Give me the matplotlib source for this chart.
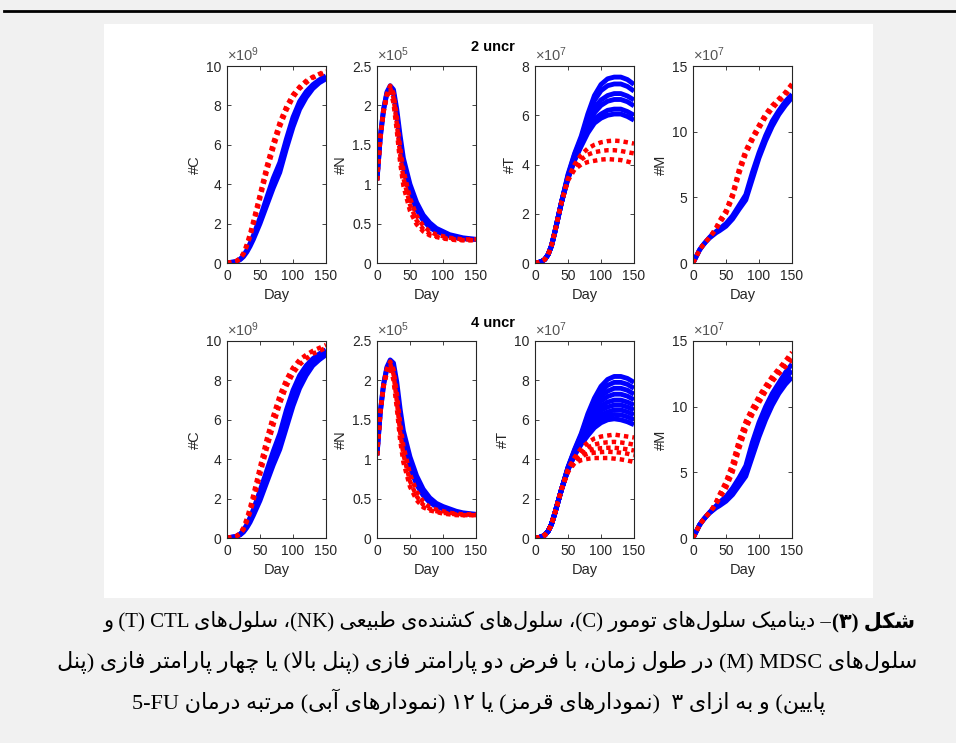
import re
import matplotlib
matplotlib.use('Agg')
import matplotlib.pyplot as plt
from matplotlib.patches import Rectangle
from matplotlib.lines import Line2D
from matplotlib.ticker import FuncFormatter

plt.rcParams['font.family'] = ['Liberation Sans', 'DejaVu Sans']
plt.rcParams['mathtext.fontset'] = 'custom'
plt.rcParams['mathtext.rm'] = 'Liberation Sans'

# ---- data (in the units shown on each axis) ----
days = [0, 5, 10, 15, 20, 25, 30, 35, 40, 50, 60, 70, 80, 90, 100, 110, 120, 130, 140, 150]

# tumour cells C (x1e9)
c2_red = [
    [0.02, 0.03, 0.06, 0.12, 0.25, 0.5, 0.95, 1.5, 2.15, 3.5, 4.9, 6.1, 7.15, 7.95, 8.55, 8.95, 9.25, 9.45, 9.6, 9.75],
    [0.02, 0.03, 0.05, 0.1, 0.22, 0.45, 0.85, 1.35, 1.95, 3.25, 4.6, 5.8, 6.9, 7.75, 8.4, 8.85, 9.15, 9.4, 9.55, 9.7],
]
c2_blue = [
    [0.02, 0.03, 0.05, 0.1, 0.2, 0.38, 0.65, 1.0, 1.4, 2.3, 3.3, 4.3, 5.1, 6.3, 7.4, 8.2, 8.7, 9.05, 9.3, 9.5],
    [0.02, 0.03, 0.05, 0.09, 0.17, 0.32, 0.55, 0.85, 1.2, 2.0, 2.9, 3.8, 4.6, 5.8, 6.9, 7.8, 8.4, 8.85, 9.15, 9.35],
]
c4_red = [
    [0.02, 0.03, 0.06, 0.12, 0.26, 0.52, 0.98, 1.55, 2.2, 3.6, 5.0, 6.2, 7.25, 8.05, 8.65, 9.05, 9.3, 9.5, 9.65, 9.8],
    [0.02, 0.03, 0.05, 0.1, 0.21, 0.43, 0.82, 1.3, 1.9, 3.2, 4.5, 5.7, 6.8, 7.7, 8.35, 8.8, 9.1, 9.35, 9.5, 9.65],
]
c4_blue = [
    [0.02, 0.03, 0.05, 0.1, 0.2, 0.4, 0.68, 1.05, 1.45, 2.4, 3.4, 4.4, 5.3, 6.5, 7.5, 8.25, 8.75, 9.1, 9.35, 9.55],
    [0.02, 0.03, 0.05, 0.09, 0.18, 0.34, 0.58, 0.9, 1.28, 2.12, 3.05, 3.98, 4.78, 5.95, 7.05, 7.9, 8.5, 8.9, 9.18, 9.38],
    [0.02, 0.03, 0.05, 0.09, 0.16, 0.3, 0.52, 0.8, 1.15, 1.9, 2.8, 3.7, 4.5, 5.6, 6.7, 7.6, 8.25, 8.75, 9.05, 9.3],
]

# NK cells N (x1e5)
n2_red = [
    [1.05, 1.6, 1.95, 2.15, 2.25, 2.15, 1.85, 1.47, 1.18, 0.82, 0.6, 0.47, 0.4, 0.36, 0.34, 0.32, 0.31, 0.3, 0.3, 0.3],
    [1.05, 1.58, 1.92, 2.12, 2.22, 2.1, 1.77, 1.38, 1.08, 0.74, 0.54, 0.43, 0.37, 0.34, 0.32, 0.31, 0.3, 0.29, 0.29, 0.29],
    [1.05, 1.58, 1.92, 2.12, 2.2, 2.03, 1.68, 1.28, 0.98, 0.66, 0.49, 0.4, 0.35, 0.33, 0.31, 0.3, 0.29, 0.29, 0.29, 0.29],
]
n2_blue = [
    [1.05, 1.6, 1.95, 2.17, 2.25, 2.2, 1.95, 1.62, 1.33, 1.0, 0.77, 0.61, 0.51, 0.44, 0.4, 0.36, 0.34, 0.32, 0.31, 0.3],
    [1.05, 1.6, 1.95, 2.15, 2.22, 2.15, 1.88, 1.52, 1.22, 0.9, 0.68, 0.54, 0.45, 0.4, 0.37, 0.34, 0.32, 0.31, 0.3, 0.3],
]
n4_red = [
    [1.05, 1.6, 1.95, 2.15, 2.24, 2.14, 1.84, 1.46, 1.17, 0.81, 0.59, 0.46, 0.39, 0.36, 0.34, 0.32, 0.31, 0.3, 0.3, 0.3],
    [1.05, 1.59, 1.93, 2.12, 2.21, 2.08, 1.74, 1.35, 1.06, 0.72, 0.53, 0.42, 0.37, 0.34, 0.32, 0.31, 0.3, 0.29, 0.29, 0.29],
    [1.05, 1.58, 1.92, 2.1, 2.18, 2.0, 1.65, 1.25, 0.96, 0.65, 0.48, 0.39, 0.35, 0.33, 0.31, 0.3, 0.29, 0.29, 0.29, 0.29],
]
n4_blue = [
    [1.05, 1.6, 1.95, 2.17, 2.26, 2.22, 1.98, 1.64, 1.36, 1.03, 0.79, 0.62, 0.51, 0.44, 0.4, 0.37, 0.34, 0.32, 0.31, 0.3],
    [1.05, 1.6, 1.95, 2.15, 2.22, 2.15, 1.88, 1.52, 1.22, 0.9, 0.68, 0.54, 0.45, 0.4, 0.37, 0.34, 0.32, 0.31, 0.3, 0.3],
]

# CTL cells T (x1e7)
t2_red = [
    [0, 0.02, 0.06, 0.15, 0.35, 0.7, 1.25, 1.85, 2.45, 3.45, 4.0, 4.4, 4.65, 4.8, 4.9, 4.95, 4.97, 4.95, 4.9, 4.85],
    [0, 0.02, 0.06, 0.15, 0.35, 0.7, 1.25, 1.85, 2.45, 3.4, 3.9, 4.2, 4.4, 4.5, 4.55, 4.58, 4.58, 4.55, 4.5, 4.45],
    [0, 0.02, 0.06, 0.15, 0.35, 0.7, 1.25, 1.85, 2.45, 3.35, 3.8, 4.0, 4.1, 4.15, 4.2, 4.22, 4.2, 4.18, 4.12, 4.05],
]
t2_blue = [
    [0, 0.02, 0.06, 0.15, 0.35, 0.7, 1.25, 1.85, 2.45, 3.6, 4.45, 5.15, 6.05, 6.8, 7.25, 7.48, 7.55, 7.55, 7.45, 7.25],
    [0, 0.02, 0.06, 0.15, 0.35, 0.7, 1.25, 1.85, 2.45, 3.55, 4.4, 5.05, 5.9, 6.6, 7.0, 7.2, 7.27, 7.27, 7.17, 6.98],
    [0, 0.02, 0.06, 0.15, 0.35, 0.7, 1.25, 1.85, 2.45, 3.5, 4.3, 4.95, 5.7, 6.3, 6.62, 6.8, 6.88, 6.88, 6.78, 6.62],
    [0, 0.02, 0.06, 0.15, 0.35, 0.7, 1.25, 1.85, 2.45, 3.48, 4.27, 4.88, 5.55, 6.1, 6.4, 6.57, 6.64, 6.64, 6.55, 6.38],
    [0, 0.02, 0.06, 0.15, 0.35, 0.7, 1.25, 1.85, 2.45, 3.45, 4.2, 4.8, 5.4, 5.85, 6.05, 6.2, 6.25, 6.25, 6.15, 6.0],
    [0, 0.02, 0.06, 0.15, 0.35, 0.7, 1.25, 1.85, 2.45, 3.42, 4.17, 4.74, 5.28, 5.68, 5.88, 6.0, 6.05, 6.05, 5.95, 5.8],
]
t4_red = [
    [0, 0.02, 0.06, 0.15, 0.35, 0.7, 1.25, 1.85, 2.45, 3.5, 4.1, 4.55, 4.85, 5.05, 5.15, 5.2, 5.25, 5.2, 5.15, 5.1],
    [0, 0.02, 0.06, 0.15, 0.35, 0.7, 1.25, 1.85, 2.45, 3.45, 4.0, 4.35, 4.6, 4.75, 4.82, 4.86, 4.88, 4.85, 4.8, 4.74],
    [0, 0.02, 0.06, 0.15, 0.35, 0.7, 1.25, 1.85, 2.45, 3.42, 3.95, 4.25, 4.42, 4.52, 4.56, 4.58, 4.58, 4.55, 4.5, 4.44],
    [0, 0.02, 0.06, 0.15, 0.35, 0.7, 1.25, 1.85, 2.45, 3.4, 3.9, 4.15, 4.28, 4.33, 4.36, 4.38, 4.36, 4.33, 4.28, 4.2],
    [0, 0.02, 0.06, 0.15, 0.35, 0.7, 1.25, 1.85, 2.45, 3.35, 3.8, 3.95, 4.02, 4.06, 4.06, 4.06, 4.03, 3.99, 3.93, 3.86],
]
t4_blue = [
    [0, 0.02, 0.06, 0.15, 0.35, 0.7, 1.25, 1.85, 2.45, 3.6, 4.5, 5.3, 6.3, 7.1, 7.7, 8.05, 8.2, 8.2, 8.1, 7.9],
    [0, 0.02, 0.06, 0.15, 0.35, 0.7, 1.25, 1.85, 2.45, 3.58, 4.45, 5.22, 6.15, 6.9, 7.45, 7.75, 7.9, 7.9, 7.8, 7.6],
    [0, 0.02, 0.06, 0.15, 0.35, 0.7, 1.25, 1.85, 2.45, 3.55, 4.4, 5.15, 6.0, 6.7, 7.2, 7.45, 7.6, 7.6, 7.5, 7.3],
    [0, 0.02, 0.06, 0.15, 0.35, 0.7, 1.25, 1.85, 2.45, 3.52, 4.38, 5.08, 5.85, 6.5, 6.95, 7.18, 7.3, 7.3, 7.2, 7.02],
    [0, 0.02, 0.06, 0.15, 0.35, 0.7, 1.25, 1.85, 2.45, 3.5, 4.35, 5.0, 5.7, 6.3, 6.7, 6.9, 7.0, 7.0, 6.9, 6.75],
    [0, 0.02, 0.06, 0.15, 0.35, 0.7, 1.25, 1.85, 2.45, 3.5, 4.32, 4.95, 5.58, 6.12, 6.48, 6.65, 6.75, 6.75, 6.65, 6.5],
    [0, 0.02, 0.06, 0.15, 0.35, 0.7, 1.25, 1.85, 2.45, 3.5, 4.3, 4.9, 5.45, 5.95, 6.25, 6.4, 6.5, 6.5, 6.4, 6.25],
    [0, 0.02, 0.06, 0.15, 0.35, 0.7, 1.25, 1.85, 2.45, 3.48, 4.25, 4.82, 5.32, 5.78, 6.05, 6.2, 6.27, 6.25, 6.15, 6.0],
    [0, 0.02, 0.06, 0.15, 0.35, 0.7, 1.25, 1.85, 2.45, 3.45, 4.2, 4.75, 5.2, 5.6, 5.85, 6.0, 6.05, 6.0, 5.9, 5.75],
]

# MDSC cells M (x1e7)
m2_red = [
    [0, 0.5, 1.0, 1.35, 1.65, 1.95, 2.3, 2.7, 3.2, 4.0, 5.3, 7.2, 8.6, 9.6, 10.5, 11.35, 12.0, 12.5, 13.0, 13.65],
    [0, 0.5, 1.0, 1.35, 1.65, 1.95, 2.25, 2.6, 3.0, 3.75, 5.0, 6.8, 8.3, 9.35, 10.25, 11.1, 11.75, 12.3, 12.8, 13.4],
]
m2_blue = [
    [0, 0.5, 1.0, 1.35, 1.65, 1.95, 2.2, 2.4, 2.6, 3.0, 3.6, 4.4, 5.2, 6.9, 8.4, 9.7, 10.8, 11.6, 12.3, 12.85],
    [0, 0.5, 1.0, 1.35, 1.65, 1.9, 2.1, 2.3, 2.45, 2.8, 3.35, 4.1, 4.8, 6.4, 8.0, 9.3, 10.4, 11.3, 12.0, 12.6],
]
m4_red = [
    [0, 0.5, 1.0, 1.35, 1.65, 1.95, 2.3, 2.75, 3.3, 4.3, 5.7, 7.5, 8.9, 9.9, 10.8, 11.6, 12.3, 12.9, 13.5, 14.15],
    [0, 0.5, 1.0, 1.35, 1.65, 1.95, 2.28, 2.68, 3.15, 4.05, 5.35, 7.15, 8.6, 9.65, 10.55, 11.38, 12.1, 12.7, 13.28, 13.88],
    [0, 0.5, 1.0, 1.35, 1.65, 1.95, 2.25, 2.6, 3.0, 3.8, 5.0, 6.8, 8.3, 9.4, 10.3, 11.15, 11.9, 12.5, 13.05, 13.6],
]
m4_blue = [
    [0, 0.5, 1.0, 1.35, 1.65, 1.95, 2.2, 2.45, 2.7, 3.15, 3.8, 4.6, 5.5, 7.3, 8.8, 10.0, 11.0, 11.8, 12.6, 13.25],
    [0, 0.5, 1.0, 1.35, 1.65, 1.92, 2.15, 2.38, 2.58, 2.98, 3.55, 4.3, 5.1, 6.75, 8.25, 9.5, 10.55, 11.4, 12.15, 12.75],
    [0, 0.5, 1.0, 1.35, 1.65, 1.9, 2.1, 2.3, 2.45, 2.8, 3.3, 4.0, 4.7, 6.2, 7.7, 9.0, 10.1, 11.0, 11.7, 12.25],
]

row_titles = ['2 uncr', '4 uncr']
ylabels = ['#C', '#N', '#T', '#M']
exponents = [9, 5, 7, 7]
ymax = [[10, 2.5, 8, 15], [10, 2.5, 10, 15]]
yticks = [
    [[0, 2, 4, 6, 8, 10], [0, 0.5, 1, 1.5, 2, 2.5], [0, 2, 4, 6, 8], [0, 5, 10, 15]],
    [[0, 2, 4, 6, 8, 10], [0, 0.5, 1, 1.5, 2, 2.5], [0, 2, 4, 6, 8, 10], [0, 5, 10, 15]],
]
xticks = [0, 50, 100, 150]
red_sets = [[c2_red, n2_red, t2_red, m2_red], [c4_red, n4_red, t4_red, m4_red]]
blue_sets = [[c2_blue, n2_blue, t2_blue, m2_blue], [c4_blue, n4_blue, t4_blue, m4_blue]]

cap_bold = 'شکل (۳)'
cap_lines = [
    '– دینامیک سلول\u200cهای تومور (C)، سلول\u200cهای کشنده\u200cی طبیعی (NK)، سلول\u200cهای CTL (T) و',
    'سلول\u200cهای MDSC (M) در طول زمان، با فرض دو پارامتر فازی (پنل بالا) یا چهار پارامتر فازی (پنل',
    'پایین) و به ازای ۳  (نمودارهای قرمز) یا ۱۲ (نمودارهای آبی) مرتبه درمان 5-FU',
]

# ---- minimal arabic shaping + bidi so the persian caption renders ----
FORMS = {
    'ا': (0xFE8D, 0xFE8E, None, None), 'آ': (0xFE81, 0xFE82, None, None),
    'ب': (0xFE8F, 0xFE90, 0xFE91, 0xFE92), 'پ': (0xFB56, 0xFB57, 0xFB58, 0xFB59),
    'ت': (0xFE95, 0xFE96, 0xFE97, 0xFE98), 'ث': (0xFE99, 0xFE9A, 0xFE9B, 0xFE9C),
    'ج': (0xFE9D, 0xFE9E, 0xFE9F, 0xFEA0), 'چ': (0xFB7A, 0xFB7B, 0xFB7C, 0xFB7D),
    'ح': (0xFEA1, 0xFEA2, 0xFEA3, 0xFEA4), 'خ': (0xFEA5, 0xFEA6, 0xFEA7, 0xFEA8),
    'د': (0xFEA9, 0xFEAA, None, None), 'ذ': (0xFEAB, 0xFEAC, None, None),
    'ر': (0xFEAD, 0xFEAE, None, None), 'ز': (0xFEAF, 0xFEB0, None, None),
    'ژ': (0xFB8A, 0xFB8B, None, None),
    'س': (0xFEB1, 0xFEB2, 0xFEB3, 0xFEB4), 'ش': (0xFEB5, 0xFEB6, 0xFEB7, 0xFEB8),
    'ص': (0xFEB9, 0xFEBA, 0xFEBB, 0xFEBC), 'ض': (0xFEBD, 0xFEBE, 0xFEBF, 0xFEC0),
    'ط': (0xFEC1, 0xFEC2, 0xFEC3, 0xFEC4), 'ظ': (0xFEC5, 0xFEC6, 0xFEC7, 0xFEC8),
    'ع': (0xFEC9, 0xFECA, 0xFECB, 0xFECC), 'غ': (0xFECD, 0xFECE, 0xFECF, 0xFED0),
    'ف': (0xFED1, 0xFED2, 0xFED3, 0xFED4), 'ق': (0xFED5, 0xFED6, 0xFED7, 0xFED8),
    'ک': (0xFB8E, 0xFB8F, 0xFB90, 0xFB91), 'گ': (0xFB92, 0xFB93, 0xFB94, 0xFB95),
    'ل': (0xFEDD, 0xFEDE, 0xFEDF, 0xFEE0), 'م': (0xFEE1, 0xFEE2, 0xFEE3, 0xFEE4),
    'ن': (0xFEE5, 0xFEE6, 0xFEE7, 0xFEE8), 'ه': (0xFEE9, 0xFEEA, 0xFEEB, 0xFEEC),
    'و': (0xFEED, 0xFEEE, None, None), 'ی': (0xFBFC, 0xFBFD, 0xFBFE, 0xFBFF),
}
LAM_ALEF = {'ا': (0xFEFB, 0xFEFC), 'آ': (0xFEF5, 0xFEF6)}


def dual(c):
    return c in FORMS and FORMS[c][2] is not None


def shape(s):
    out = []
    i = 0
    while i < len(s):
        c = s[i]
        if c not in FORMS:
            out.append(c)
            i += 1
            continue
        jp = i > 0 and dual(s[i - 1])
        nxt = s[i + 1] if i + 1 < len(s) else ''
        if c == 'ل' and nxt in LAM_ALEF:
            out.append(chr(LAM_ALEF[nxt][1 if jp else 0]))
            i += 2
            continue
        jn = dual(c) and nxt in FORMS
        iso, fin, ini, med = FORMS[c]
        if jp and jn:
            cp = med
        elif jp:
            cp = fin
        elif jn:
            cp = ini
        else:
            cp = iso
        out.append(chr(cp))
        i += 1
    return ''.join(out).replace('\u200c', '')


LTR_RUN = r'[A-Za-z0-9\u06F0-\u06F9]+(?:-[A-Za-z0-9\u06F0-\u06F9]+)*'


def visual(s):
    s = shape(s)
    runs = re.findall(LTR_RUN + r'|[^A-Za-z0-9\u06F0-\u06F9]+', s)
    out = []
    for r in reversed(runs):
        if re.match(LTR_RUN, r):
            out.append(r)
        else:
            out.append(''.join({'(': ')', ')': '('}.get(c, c) for c in reversed(r)))
    return ''.join(out)


# ---- figure ----
W, H = 956, 743
fig = plt.figure(figsize=(W / 100, H / 100), dpi=100)
fig.patch.set_facecolor('#f1f1f1')
fig.add_artist(Rectangle((104 / W, 1 - 598 / H), 769 / W, 574 / H, transform=fig.transFigure,
                         facecolor='white', edgecolor='none', zorder=-5))
fig.add_artist(Line2D([4 / W, 1], [1 - 11 / H, 1 - 11 / H], transform=fig.transFigure,
                      color='black', lw=2))

grey = '#262626'
lefts = [227, 377, 535, 693]
bottoms = [263, 538]

for row in range(2):
    for col in range(4):
        ax = fig.add_axes([lefts[col] / W, 1 - bottoms[row] / H, 99 / W, 197 / H])
        for y in blue_sets[row][col]:
            ax.plot(days, y, color='blue', lw=3.5, solid_capstyle='butt')
        for y in red_sets[row][col]:
            ax.plot(days, y, color='red', lw=3.2, linestyle=(0, (1, 0.9)))
        ax.set_xlim(0, 150)
        ax.set_ylim(0, ymax[row][col])
        ax.set_xticks(xticks)
        ax.set_yticks(yticks[row][col])
        ax.yaxis.set_major_formatter(FuncFormatter(lambda v, p: '%g' % v))
        ax.tick_params(direction='in', length=3, width=0.6, labelsize=10, colors=grey,
                       top=True, right=True, pad=4)
        for sp in ax.spines.values():
            sp.set_color(grey)
            sp.set_linewidth(0.8)
        ax.set_xlabel('Day', fontsize=10.5, color=grey, labelpad=4)
        ax.set_ylabel(ylabels[col], fontsize=10.5, color=grey, labelpad=3)
        ax.text(0, 1.008, r'$\mathregular{\times10^{%d}}$' % exponents[col], transform=ax.transAxes,
                ha='left', va='bottom', fontsize=10.5, color='#555555')

for row, y in enumerate([47, 323]):
    fig.text(493 / W, 1 - y / H, row_titles[row], ha='center', va='center',
             fontsize=10.5, fontweight='bold', color='black')

# ---- caption ----
cap_font = ['Liberation Serif', 'DejaVu Sans']
cap_size = 16
cap_y = [622, 662, 702]
cap_cx = [487, 479]
r = fig.canvas.get_renderer()
# first line: bold "figure 3" label + rest, right edge at x=915px
tb = fig.text(915 / W, 1 - cap_y[0] / H, visual(cap_bold), family=cap_font, fontsize=15,
              fontweight='bold', ha='right', va='center')
wb = tb.get_window_extent(r).width / fig.bbox.width
fig.text(915 / W - wb, 1 - cap_y[0] / H, visual(cap_lines[0]), family=cap_font, fontsize=15,
         ha='right', va='center')
for i in (1, 2):
    fig.text(cap_cx[i - 1] / W, 1 - cap_y[i] / H, visual(cap_lines[i]), family=cap_font,
             fontsize=cap_size, ha='center', va='center')

fig.savefig('out.png', dpi=100, facecolor=fig.get_facecolor())
